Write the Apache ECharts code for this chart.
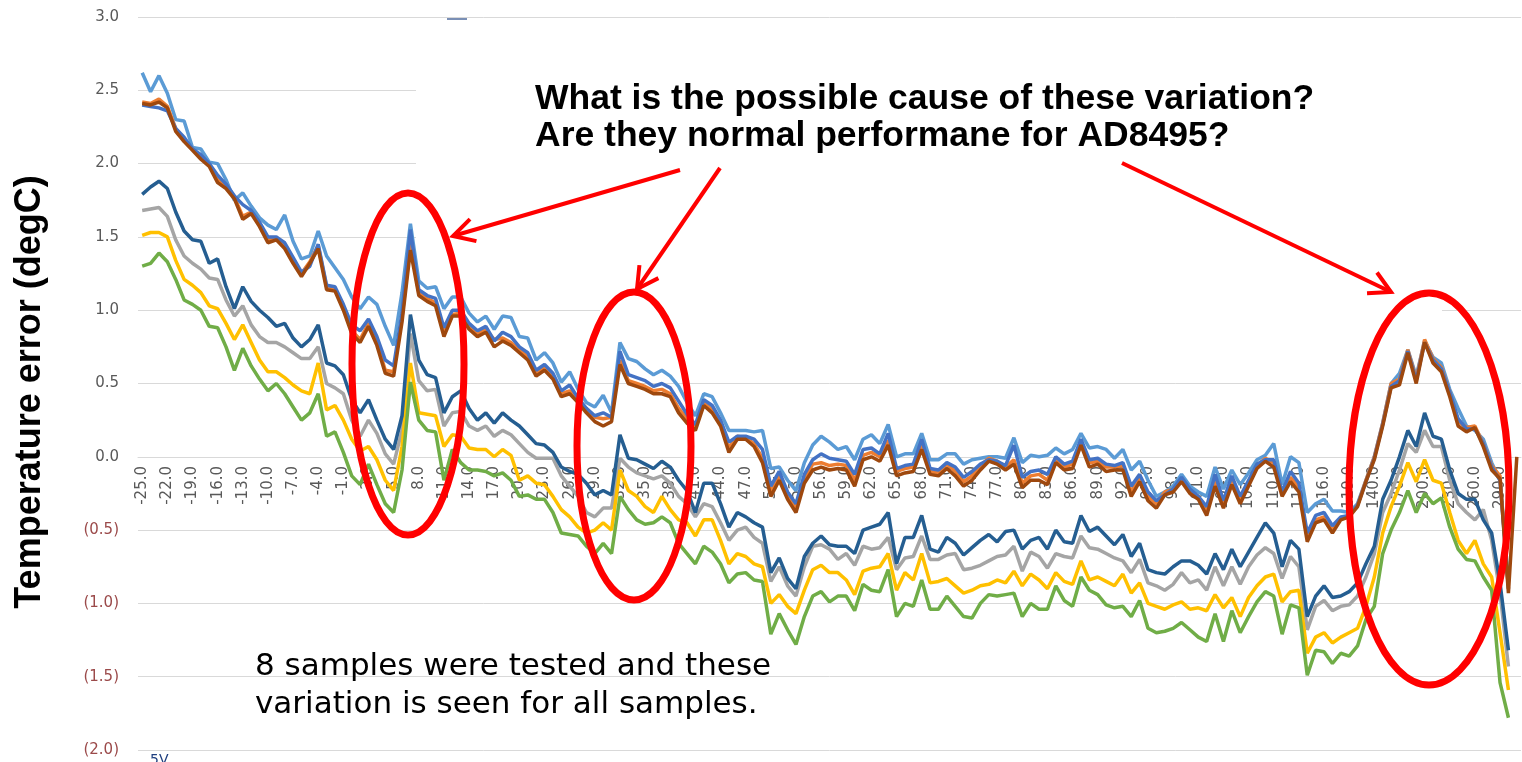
<!DOCTYPE html>
<html>
<head>
<meta charset="utf-8">
<title>AD8495 temperature error</title>
<script src="https://cdn.jsdelivr.net/npm/echarts@6/dist/echarts.min.js"></script>
<style>
  html, body { margin: 0; padding: 0; background: #fff; }
  #chart { width: 1522px; height: 762px; }
</style>
</head>
<body>
<div id="chart"></div>
<script>
// temperature steps (degC)
const temps = [
  -25, -24, -23, -22, -21, -20, -19, -18, -17, -16,
  -15, -14, -13, -12, -11, -10, -9, -8, -7, -6,
  -5, -4, -3, -2, -1, 0, 1, 2, 3, 4,
  5, 6, 7, 8, 9, 10, 11, 12, 13, 14,
  15, 16, 17, 18, 19, 20, 21, 22, 23, 24,
  25, 26, 27, 28, 29, 30, 31, 32, 33, 34,
  35, 36, 37, 38, 39, 40, 41, 42, 43, 44,
  45, 46, 47, 48, 49, 50, 51, 52, 53, 54,
  55, 56, 57, 58, 59, 60, 61, 62, 63, 64,
  65, 66, 67, 68, 69, 70, 71, 72, 73, 74,
  75, 76, 77, 78, 79, 80, 81, 82, 83, 84,
  85, 86, 87, 88, 89, 90, 91, 92, 93, 94,
  95, 96, 97, 98, 99, 100, 101, 102, 103, 104,
  105, 106, 107, 108, 109, 110, 111, 112, 113, 114,
  115, 116, 117, 118, 119, 120, 130, 140, 150, 160,
  170, 180, 190, 200, 210, 220, 230, 240, 250, 260,
  270, 280, 290, 300, 310
];

// error of each sample (degC)
const sample1 = [ // light blue
  2.62, 2.49, 2.60, 2.48, 2.30, 2.29, 2.11, 2.10, 2.01, 2.00,
  1.89, 1.75, 1.80, 1.71, 1.63, 1.58, 1.55, 1.65, 1.47, 1.35,
  1.37, 1.54, 1.37, 1.29, 1.21, 1.09, 1.01, 1.09, 1.04, 0.89,
  0.76, 1.12, 1.59, 1.20, 1.15, 1.16, 1.01, 1.09, 1.09, 0.98,
  0.92, 0.96, 0.87, 0.96, 0.95, 0.82, 0.81, 0.66, 0.71, 0.64,
  0.51, 0.58, 0.46, 0.37, 0.34, 0.42, 0.30, 0.78, 0.67, 0.65,
  0.60, 0.56, 0.59, 0.55, 0.48, 0.37, 0.28, 0.43, 0.41, 0.30,
  0.18, 0.18, 0.18, 0.17, 0.18, -0.08, -0.07, -0.16, -0.23, -0.04,
  0.08, 0.14, 0.10, 0.05, 0.07, -0.02, 0.12, 0.15, 0.09, 0.22,
  0.00, 0.02, 0.02, 0.16, -0.02, -0.02, 0.02, 0.02, -0.05, -0.02,
  -0.01, 0.00, 0.00, -0.01, 0.13, -0.04, 0.01, 0.00, 0.01, 0.06,
  0.02, 0.05, 0.16, 0.06, 0.07, 0.05, -0.01, 0.05, -0.09, -0.03,
  -0.16, -0.27, -0.24, -0.20, -0.12, -0.20, -0.24, -0.27, -0.07, -0.22,
  -0.09, -0.19, -0.11, -0.02, 0.01, 0.09, -0.19, 0.00, -0.04, -0.38,
  -0.32, -0.29, -0.37, -0.37, -0.38, -0.32, -0.16, 0.00, 0.23, 0.50,
  0.57, 0.73, 0.55, 0.79, 0.68, 0.64, 0.46, 0.33, 0.21, 0.18,
  0.12, -0.04, -0.16, -0.85, null
];
const sample2 = [ // orange
  2.42, 2.41, 2.44, 2.39, 2.24, 2.16, 2.10, 2.04, 1.99, 1.89,
  1.84, 1.77, 1.64, 1.67, 1.58, 1.48, 1.49, 1.44, 1.33, 1.25,
  1.33, 1.44, 1.16, 1.14, 1.02, 0.86, 0.80, 0.91, 0.78, 0.59,
  0.58, 0.95, 1.45, 1.12, 1.08, 1.05, 0.84, 0.97, 0.98, 0.89,
  0.84, 0.87, 0.80, 0.81, 0.78, 0.73, 0.68, 0.57, 0.61, 0.55,
  0.43, 0.45, 0.39, 0.32, 0.27, 0.26, 0.27, 0.66, 0.52, 0.50,
  0.48, 0.45, 0.46, 0.43, 0.33, 0.26, 0.20, 0.37, 0.32, 0.23,
  0.06, 0.14, 0.13, 0.09, -0.01, -0.24, -0.13, -0.27, -0.35, -0.15,
  -0.05, -0.04, -0.06, -0.05, -0.06, -0.16, 0.01, 0.03, 0.00, 0.11,
  -0.10, -0.08, -0.07, 0.08, -0.10, -0.11, -0.05, -0.10, -0.17, -0.13,
  -0.06, -0.01, -0.03, -0.07, -0.02, -0.18, -0.13, -0.12, -0.16, -0.01,
  -0.07, -0.05, 0.10, -0.04, -0.03, -0.07, -0.07, -0.06, -0.24, -0.14,
  -0.27, -0.32, -0.24, -0.22, -0.15, -0.23, -0.27, -0.37, -0.17, -0.32,
  -0.16, -0.29, -0.18, -0.06, -0.01, -0.04, -0.25, -0.14, -0.21, -0.55,
  -0.43, -0.41, -0.50, -0.42, -0.40, -0.33, -0.16, 0.00, 0.23, 0.50,
  0.53, 0.73, 0.53, 0.80, 0.67, 0.61, 0.44, 0.24, 0.20, 0.21,
  0.09, -0.06, -0.13, -0.90, null
];
const sample3 = [ // gray
  1.68, 1.69, 1.70, 1.64, 1.48, 1.37, 1.32, 1.28, 1.22, 1.21,
  1.07, 0.96, 1.03, 0.90, 0.82, 0.78, 0.78, 0.75, 0.71, 0.67,
  0.67, 0.75, 0.50, 0.47, 0.43, 0.25, 0.14, 0.25, 0.16, 0.02,
  -0.05, 0.18, 0.84, 0.52, 0.45, 0.46, 0.21, 0.30, 0.31, 0.21,
  0.18, 0.21, 0.14, 0.18, 0.15, 0.09, 0.03, -0.01, -0.01, -0.01,
  -0.13, -0.20, -0.27, -0.38, -0.41, -0.35, -0.35, -0.01, -0.07, -0.11,
  -0.13, -0.15, -0.13, -0.18, -0.27, -0.32, -0.41, -0.32, -0.34, -0.45,
  -0.57, -0.50, -0.48, -0.55, -0.59, -0.85, -0.75, -0.88, -0.95, -0.75,
  -0.61, -0.60, -0.63, -0.70, -0.66, -0.74, -0.61, -0.63, -0.62, -0.55,
  -0.77, -0.69, -0.68, -0.54, -0.70, -0.70, -0.67, -0.66, -0.77, -0.76,
  -0.74, -0.71, -0.68, -0.67, -0.61, -0.78, -0.65, -0.68, -0.76, -0.66,
  -0.68, -0.69, -0.54, -0.62, -0.63, -0.66, -0.69, -0.71, -0.79, -0.70,
  -0.86, -0.88, -0.91, -0.87, -0.79, -0.86, -0.84, -0.91, -0.75, -0.88,
  -0.75, -0.87, -0.75, -0.67, -0.62, -0.66, -0.83, -0.68, -0.75, -1.18,
  -1.02, -0.98, -1.05, -1.02, -1.01, -0.95, -0.82, -0.66, -0.38, -0.25,
  -0.09, 0.09, 0.03, 0.18, 0.07, 0.07, -0.16, -0.32, -0.38, -0.43,
  -0.36, -0.57, -0.93, -1.43, null
];
const sample4 = [ // gold
  1.51, 1.53, 1.53, 1.50, 1.34, 1.21, 1.17, 1.12, 1.03, 1.01,
  0.91, 0.80, 0.90, 0.78, 0.66, 0.58, 0.58, 0.54, 0.49, 0.45,
  0.43, 0.64, 0.32, 0.35, 0.25, 0.12, 0.04, 0.07, -0.02, -0.16,
  -0.23, 0.07, 0.64, 0.30, 0.29, 0.28, 0.07, 0.15, 0.14, 0.06,
  0.05, 0.05, 0.00, 0.05, 0.01, -0.16, -0.13, -0.18, -0.19, -0.27,
  -0.36, -0.41, -0.48, -0.52, -0.50, -0.45, -0.50, -0.09, -0.23, -0.27,
  -0.34, -0.38, -0.27, -0.36, -0.43, -0.45, -0.54, -0.43, -0.43, -0.57,
  -0.73, -0.66, -0.68, -0.73, -0.75, -1.00, -0.94, -1.02, -1.07, -0.91,
  -0.77, -0.74, -0.79, -0.79, -0.84, -0.94, -0.78, -0.76, -0.75, -0.66,
  -0.91, -0.79, -0.84, -0.66, -0.86, -0.85, -0.83, -0.88, -0.93, -0.91,
  -0.88, -0.87, -0.84, -0.86, -0.78, -0.88, -0.80, -0.84, -0.90, -0.79,
  -0.85, -0.87, -0.71, -0.84, -0.82, -0.85, -0.88, -0.80, -0.93, -0.86,
  -1.00, -1.02, -1.04, -1.01, -0.99, -1.04, -1.03, -1.05, -0.94, -1.03,
  -0.96, -1.09, -0.96, -0.88, -0.82, -0.80, -0.99, -0.92, -0.91, -1.34,
  -1.23, -1.20, -1.27, -1.23, -1.20, -1.17, -1.02, -0.82, -0.52, -0.34,
  -0.20, -0.04, -0.17, -0.02, -0.16, -0.18, -0.38, -0.57, -0.66, -0.57,
  -0.73, -0.82, -1.20, -1.59, null
];
const sample5 = [ // blue
  2.40, 2.39, 2.38, 2.36, 2.24, 2.18, 2.10, 2.06, 2.00, 1.92,
  1.86, 1.78, 1.72, 1.68, 1.60, 1.50, 1.50, 1.46, 1.36, 1.26,
  1.30, 1.45, 1.17, 1.16, 1.04, 0.90, 0.86, 0.94, 0.82, 0.66,
  0.62, 0.98, 1.55, 1.14, 1.10, 1.08, 0.88, 1.00, 1.00, 0.91,
  0.86, 0.89, 0.79, 0.85, 0.82, 0.75, 0.71, 0.59, 0.63, 0.57,
  0.45, 0.49, 0.40, 0.33, 0.28, 0.30, 0.27, 0.72, 0.56, 0.54,
  0.52, 0.48, 0.50, 0.47, 0.38, 0.29, 0.22, 0.39, 0.35, 0.25,
  0.10, 0.14, 0.14, 0.12, 0.05, -0.20, -0.10, -0.24, -0.32, -0.12,
  -0.02, 0.02, -0.01, -0.02, -0.03, -0.12, 0.05, 0.06, 0.02, 0.16,
  -0.08, -0.06, -0.05, 0.12, -0.08, -0.09, -0.04, -0.07, -0.14, -0.10,
  -0.05, -0.02, -0.03, -0.06, 0.08, -0.14, -0.10, -0.09, -0.12, 0.00,
  -0.05, -0.03, 0.12, -0.02, -0.01, -0.05, -0.06, -0.04, -0.20, -0.12,
  -0.24, -0.30, -0.26, -0.22, -0.14, -0.22, -0.27, -0.34, -0.12, -0.30,
  -0.13, -0.27, -0.16, -0.05, -0.02, -0.02, -0.24, -0.10, -0.18, -0.52,
  -0.40, -0.38, -0.47, -0.41, -0.40, -0.33, -0.17, -0.01, 0.22, 0.48,
  0.52, 0.72, 0.52, 0.78, 0.66, 0.60, 0.44, 0.26, 0.19, 0.19,
  0.09, -0.07, -0.16, -0.90, null
];
const sample6 = [ // green
  1.30, 1.32, 1.39, 1.33, 1.21, 1.07, 1.04, 1.00, 0.89, 0.88,
  0.75, 0.59, 0.74, 0.62, 0.53, 0.45, 0.50, 0.43, 0.34, 0.25,
  0.30, 0.43, 0.14, 0.17, 0.03, -0.13, -0.19, -0.05, -0.19, -0.32,
  -0.38, -0.09, 0.51, 0.25, 0.18, 0.17, -0.16, 0.05, -0.04, -0.09,
  -0.09, -0.10, -0.13, -0.11, -0.16, -0.27, -0.26, -0.29, -0.29, -0.38,
  -0.52, -0.53, -0.54, -0.61, -0.66, -0.59, -0.66, -0.27, -0.36, -0.43,
  -0.46, -0.45, -0.41, -0.45, -0.59, -0.66, -0.73, -0.61, -0.65, -0.73,
  -0.86, -0.80, -0.79, -0.84, -0.85, -1.21, -1.07, -1.18, -1.28, -1.09,
  -0.95, -0.92, -0.99, -0.95, -0.95, -1.05, -0.87, -0.91, -0.92, -0.77,
  -1.09, -1.00, -1.02, -0.84, -1.04, -1.04, -0.95, -1.02, -1.09, -1.10,
  -1.00, -0.94, -0.95, -0.94, -0.93, -1.09, -1.00, -1.04, -1.04, -0.88,
  -0.98, -1.02, -0.82, -0.91, -0.94, -1.01, -1.03, -1.02, -1.09, -0.98,
  -1.17, -1.20, -1.19, -1.17, -1.13, -1.18, -1.23, -1.26, -1.07, -1.26,
  -1.05, -1.20, -1.09, -0.99, -0.92, -0.95, -1.21, -1.01, -1.03, -1.49,
  -1.32, -1.33, -1.41, -1.34, -1.36, -1.29, -1.11, -1.02, -0.66, -0.50,
  -0.38, -0.23, -0.38, -0.25, -0.32, -0.28, -0.48, -0.63, -0.70, -0.71,
  -0.82, -0.91, -1.54, -1.78, null
];
const sample7 = [ // dark blue
  1.79, 1.84, 1.88, 1.83, 1.67, 1.54, 1.48, 1.47, 1.32, 1.35,
  1.16, 1.01, 1.16, 1.06, 1.00, 0.95, 0.89, 0.91, 0.81, 0.75,
  0.80, 0.90, 0.64, 0.62, 0.56, 0.39, 0.30, 0.39, 0.25, 0.12,
  0.05, 0.28, 0.97, 0.66, 0.56, 0.54, 0.30, 0.41, 0.45, 0.33,
  0.25, 0.30, 0.23, 0.30, 0.25, 0.21, 0.15, 0.09, 0.08, 0.03,
  -0.07, -0.10, -0.12, -0.18, -0.26, -0.23, -0.26, 0.15, -0.01, -0.02,
  -0.05, -0.08, -0.03, -0.07, -0.16, -0.23, -0.38, -0.18, -0.18, -0.32,
  -0.48, -0.38, -0.41, -0.45, -0.48, -0.79, -0.69, -0.83, -0.90, -0.68,
  -0.59, -0.54, -0.60, -0.61, -0.61, -0.66, -0.50, -0.48, -0.46, -0.38,
  -0.73, -0.55, -0.55, -0.40, -0.63, -0.65, -0.55, -0.59, -0.67, -0.62,
  -0.57, -0.53, -0.58, -0.51, -0.50, -0.63, -0.57, -0.55, -0.63, -0.50,
  -0.58, -0.59, -0.40, -0.51, -0.48, -0.54, -0.60, -0.53, -0.68, -0.59,
  -0.77, -0.79, -0.80, -0.75, -0.71, -0.71, -0.74, -0.80, -0.66, -0.77,
  -0.63, -0.75, -0.65, -0.55, -0.45, -0.52, -0.75, -0.57, -0.63, -1.09,
  -0.95, -0.88, -0.96, -0.95, -0.92, -0.86, -0.73, -0.61, -0.29, -0.16,
  0.00, 0.18, 0.07, 0.30, 0.14, 0.12, -0.09, -0.25, -0.29, -0.29,
  -0.43, -0.52, -0.86, -1.32, null
];
const sample8 = [ // brown
  2.41, 2.40, 2.42, 2.38, 2.22, 2.15, 2.09, 2.03, 1.98, 1.87,
  1.83, 1.76, 1.62, 1.66, 1.57, 1.46, 1.48, 1.42, 1.32, 1.23,
  1.32, 1.42, 1.14, 1.13, 1.00, 0.84, 0.78, 0.89, 0.76, 0.57,
  0.55, 0.92, 1.41, 1.10, 1.06, 1.03, 0.82, 0.96, 0.96, 0.87,
  0.82, 0.85, 0.75, 0.79, 0.76, 0.71, 0.66, 0.55, 0.59, 0.53,
  0.41, 0.43, 0.37, 0.30, 0.24, 0.21, 0.24, 0.63, 0.50, 0.48,
  0.46, 0.43, 0.43, 0.41, 0.30, 0.23, 0.18, 0.35, 0.30, 0.21,
  0.03, 0.12, 0.12, 0.07, -0.04, -0.27, -0.16, -0.29, -0.38, -0.18,
  -0.09, -0.07, -0.09, -0.08, -0.09, -0.20, -0.02, 0.00, -0.03, 0.08,
  -0.13, -0.11, -0.10, 0.05, -0.12, -0.13, -0.08, -0.13, -0.20, -0.16,
  -0.09, -0.03, -0.05, -0.09, -0.05, -0.21, -0.16, -0.16, -0.19, -0.04,
  -0.09, -0.08, 0.08, -0.07, -0.05, -0.10, -0.09, -0.09, -0.27, -0.17,
  -0.30, -0.35, -0.26, -0.24, -0.17, -0.25, -0.29, -0.40, -0.20, -0.35,
  -0.19, -0.32, -0.20, -0.08, -0.03, -0.07, -0.27, -0.17, -0.24, -0.58,
  -0.45, -0.43, -0.52, -0.43, -0.41, -0.34, -0.17, -0.02, 0.21, 0.47,
  0.49, 0.71, 0.50, 0.78, 0.64, 0.58, 0.41, 0.21, 0.17, 0.20,
  0.07, -0.09, -0.15, -0.93, 0.00
];

const samples = [sample1, sample2, sample3, sample4, sample5, sample6, sample7, sample8];
const colors = ['#5B9BD5', '#ED7D31', '#A5A5A5', '#FFC000', '#4472C4', '#70AD47', '#255E91', '#9E480E'];

function arrow(x1, y1, x2, y2) {
  let a = Math.atan2(y2 - y1, x2 - x1), len = 24, spread = 0.5;
  return [
    { type: 'line', z: 10, shape: { x1: x1, y1: y1, x2: x2, y2: y2 }, style: { stroke: '#ff0000', lineWidth: 4 } },
    { type: 'polyline', z: 10, shape: { points: [
        [x2 - len * Math.cos(a - spread), y2 - len * Math.sin(a - spread)],
        [x2, y2],
        [x2 - len * Math.cos(a + spread), y2 - len * Math.sin(a + spread)]
      ] }, style: { stroke: '#ff0000', lineWidth: 4, fill: null } }
  ];
}
function ring(cx, cy, rx, ry) {
  return { type: 'ellipse', z: 10, shape: { cx: cx, cy: cy, rx: rx, ry: ry },
    style: { fill: null, stroke: '#ff0000', lineWidth: 7 } };
}

let myChart = echarts.init(document.getElementById('chart'));
let option = {
  animation: false,
  grid: { left: 138, right: 1, top: 17, bottom: 12 },
  xAxis: {
    type: 'category',
    data: temps.map(t => t.toFixed(1)),
    // category axis sits on the 0.0 line (bottom of grid is 750, zero is ~457)
    offset: -293,
    axisLine: { onZero: false, lineStyle: { color: '#d9d9d9' } },
    axisTick: { show: false },
    axisLabel: { rotate: 90, interval: 2, fontSize: 15, color: '#595959', margin: 9, fontFamily: 'DejaVu Sans' }
  },
  yAxis: {
    type: 'value',
    min: -2, max: 3, interval: 0.5,
    name: 'Temperature error (degC)',
    nameLocation: 'middle', nameRotate: 90, nameGap: 90,
    nameTextStyle: { fontSize: 36, fontWeight: 'bold', color: '#000', fontFamily: 'Liberation Sans', padding: [0, 17, 0, 0] },
    axisLine: { show: false },
    axisTick: { show: false },
    axisLabel: {
      margin: 19, fontSize: 15, fontFamily: 'DejaVu Sans',
      color: v => v < 0 ? '#9b4a4a' : '#595959',
      formatter: v => v < 0 ? '(' + Math.abs(v).toFixed(1) + ')' : v.toFixed(1)
    },
    splitLine: { lineStyle: { color: '#d9d9d9' } }
  },
  series: samples.map((d, k) => ({
    name: 'Sample ' + (k + 1),
    type: 'line',
    data: d,
    showSymbol: false,
    color: colors[k],
    lineStyle: { width: 3.5, color: colors[k] }
  })),
  graphic: [
    // white patches of the pasted screenshot over the gridlines
    { type: 'rect', z: 1, silent: true, shape: { x: 416, y: 40, width: 1106, height: 215 }, style: { fill: '#fff' } },
    { type: 'rect', z: 1, silent: true, shape: { x: 600, y: 255, width: 842, height: 80 }, style: { fill: '#fff' } },
    // leftover legend stub at the top
    { type: 'line', z: 1, silent: true, shape: { x1: 447, y1: 19, x2: 467, y2: 19 }, style: { stroke: '#7a8fb5', lineWidth: 2 } },
    ring(408, 364, 56, 171),
    ring(634, 446, 57, 154),
    ring(1429, 489, 80, 196),
    ...arrow(680, 170, 453, 236),
    ...arrow(720, 168, 637, 289),
    ...arrow(1122, 163, 1391, 292),
    { type: 'text', z: 10, x: 535, y: 81,
      style: { text: 'What is the possible cause of these variation?\nAre they normal performane for AD8495?',
        fontSize: 35.5, fontWeight: 'bold', fontFamily: 'Liberation Sans', fill: '#000', lineHeight: 37 } },
    { type: 'text', z: 10, x: 255, y: 648,
      style: { text: '8 samples were tested and these\nvariation is seen for all samples.',
        fontSize: 31, fontFamily: 'DejaVu Sans', fill: '#000', lineHeight: 38 } },
    { type: 'text', z: 10, x: 150, y: 753,
      style: { text: '5V', fontSize: 14, fontFamily: 'DejaVu Sans', fill: '#1f3f7f' } }
  ]
};
option && myChart.setOption(option);
</script>
</body>
</html>
